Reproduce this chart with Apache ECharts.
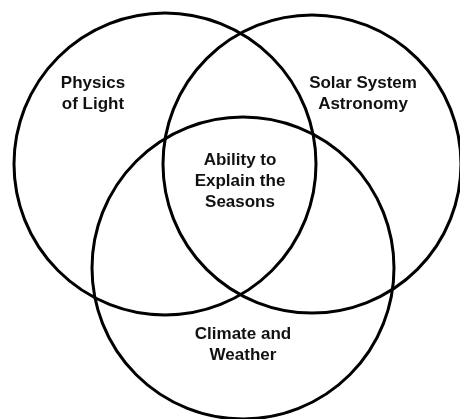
<!DOCTYPE html>
<html>
<head>
<meta charset="utf-8">
<script src="https://cdn.jsdelivr.net/npm/echarts@6/dist/echarts.min.js"></script>
<style>html,body{margin:0;padding:0;background:#fff;}#c{width:460px;height:419px;}</style>
</head>
<body>
<div id="c"></div>
<script>
// Circle sets (data units = pixel space of the 460x419 frame)
const setNames = ['Physics of Light', 'Solar System Astronomy', 'Climate and Weather'];
const circleX = [165, 312, 243];
const circleY = [164, 164, 268];
const circleR = [151, 149, 151];

// Region labels
const labelTexts = ['Physics\nof Light', 'Solar System\nAstronomy', 'Ability to\nExplain the\nSeasons', 'Climate and\nWeather'];
const labelX = [93, 363, 240, 243];
const labelY = [93.5, 93.5, 181, 344.5];

const chart = echarts.init(document.getElementById('c'), null, {renderer: 'canvas'});
const circleData = setNames.map((n, i) => ({name: n, value: [circleX[i], circleY[i], circleR[i]]}));
const labelData = labelTexts.map((t, i) => ({name: t, value: [labelX[i], labelY[i]]}));

chart.setOption({
  backgroundColor: '#fff',
  animation: false,
  grid: {left: 0, right: 0, top: 0, bottom: 0},
  xAxis: {type: 'value', min: 0, max: 460, show: false},
  yAxis: {type: 'value', min: 0, max: 419, inverse: true, show: false},
  series: [
    {
      type: 'custom',
      data: circleData,
      clip: false,
      renderItem: function (params, api) {
        const c = api.coord([api.value(0), api.value(1)]);
        const s = api.size([api.value(2), api.value(2)]);
        return {
          type: 'circle',
          shape: {cx: c[0], cy: c[1], r: s[0]},
          style: {fill: 'none', stroke: '#000', lineWidth: 3}
        };
      }
    },
    {
      type: 'custom',
      data: labelData,
      clip: false,
      renderItem: function (params, api) {
        const c = api.coord([api.value(0), api.value(1)]);
        return {
          type: 'text',
          x: c[0],
          y: c[1],
          style: {
            text: labelTexts[params.dataIndex],
            fontFamily: '"Liberation Sans", Arial, sans-serif',
            fontWeight: 'bold',
            fontSize: 17,
            lineHeight: 21,
            fill: '#111',
            align: 'center',
            verticalAlign: 'middle'
          }
        };
      }
    }
  ]
});
</script>
</body>
</html>
